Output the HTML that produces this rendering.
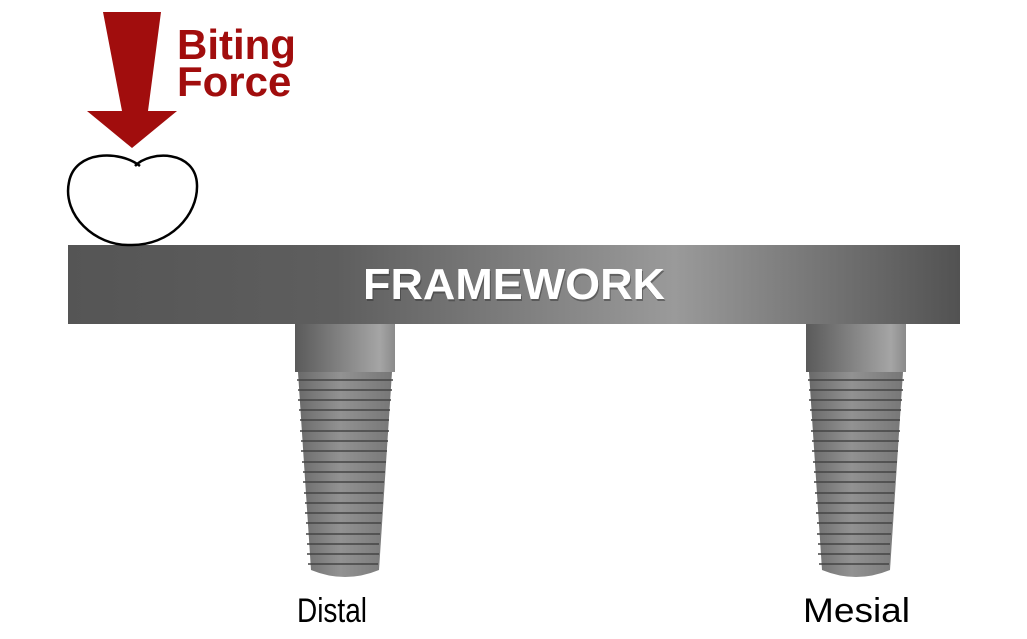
<!DOCTYPE html>
<html><head><meta charset="utf-8"><style>
html,body{margin:0;padding:0;background:#fff;}
svg{display:block;}
</style></head><body>
<svg width="1027" height="639" viewBox="0 0 1027 639" xmlns="http://www.w3.org/2000/svg">
<defs>
<linearGradient id="fw" x1="0" x2="1" y1="0" y2="0">
<stop offset="0" stop-color="#555"/>
<stop offset="0.3" stop-color="#5e5e5e"/>
<stop offset="0.68" stop-color="#9a9a9a"/>
<stop offset="1" stop-color="#525252"/>
</linearGradient>
<linearGradient id="col" x1="0" x2="1">
<stop offset="0" stop-color="#5a5a5a"/>
<stop offset="0.85" stop-color="#a5a5a5"/>
<stop offset="1" stop-color="#8a8a8a"/>
</linearGradient>
<linearGradient id="body" x1="0" x2="1">
<stop offset="0" stop-color="#6a6a6a"/>
<stop offset="0.45" stop-color="#929292"/>
<stop offset="1" stop-color="#777"/>
</linearGradient>
</defs>
<g transform="translate(295,324)">
<rect x="0" y="0" width="100" height="48" fill="url(#col)"/>
<path d="M3 48 L97 48 L84 246 Q50 260 16 246 Z" fill="url(#body)"/>
<g stroke="#444" stroke-width="1.5">
<line x1="2" y1="56" x2="98" y2="56"/><line x1="3" y1="66" x2="97" y2="66"/><line x1="3" y1="76" x2="96" y2="76"/><line x1="4" y1="86" x2="95" y2="86"/><line x1="5" y1="96" x2="94" y2="96"/><line x1="5" y1="107" x2="94" y2="107"/><line x1="6" y1="117" x2="93" y2="117"/><line x1="6" y1="127" x2="92" y2="127"/><line x1="7" y1="138" x2="91" y2="138"/><line x1="8" y1="148" x2="90" y2="148"/><line x1="8" y1="158" x2="89" y2="158"/><line x1="9" y1="169" x2="88" y2="169"/><line x1="10" y1="179" x2="88" y2="179"/><line x1="10" y1="189" x2="87" y2="189"/><line x1="11" y1="199" x2="86" y2="199"/><line x1="11" y1="210" x2="85" y2="210"/><line x1="12" y1="220" x2="84" y2="220"/><line x1="12" y1="230" x2="84" y2="230"/><line x1="13" y1="240" x2="83" y2="240"/>
</g>
</g>
<g transform="translate(806,324)">
<rect x="0" y="0" width="100" height="48" fill="url(#col)"/>
<path d="M3 48 L97 48 L84 246 Q50 260 16 246 Z" fill="url(#body)"/>
<g stroke="#444" stroke-width="1.5">
<line x1="2" y1="56" x2="98" y2="56"/><line x1="3" y1="66" x2="97" y2="66"/><line x1="3" y1="76" x2="96" y2="76"/><line x1="4" y1="86" x2="95" y2="86"/><line x1="5" y1="96" x2="94" y2="96"/><line x1="5" y1="107" x2="94" y2="107"/><line x1="6" y1="117" x2="93" y2="117"/><line x1="6" y1="127" x2="92" y2="127"/><line x1="7" y1="138" x2="91" y2="138"/><line x1="8" y1="148" x2="90" y2="148"/><line x1="8" y1="158" x2="89" y2="158"/><line x1="9" y1="169" x2="88" y2="169"/><line x1="10" y1="179" x2="88" y2="179"/><line x1="10" y1="189" x2="87" y2="189"/><line x1="11" y1="199" x2="86" y2="199"/><line x1="11" y1="210" x2="85" y2="210"/><line x1="12" y1="220" x2="84" y2="220"/><line x1="12" y1="230" x2="84" y2="230"/><line x1="13" y1="240" x2="83" y2="240"/>
</g>
</g>
<rect x="68" y="245" width="892" height="79" fill="url(#fw)"/>
<text x="515" y="301" text-anchor="middle" font-family="Liberation Sans, sans-serif" font-weight="bold" font-size="44" fill="#333" opacity="0.5" textLength="302" lengthAdjust="spacingAndGlyphs">FRAMEWORK</text>
<text x="514" y="299" text-anchor="middle" font-family="Liberation Sans, sans-serif" font-weight="bold" font-size="44" fill="#fff" textLength="302" lengthAdjust="spacingAndGlyphs">FRAMEWORK</text>
<path d="M140 166 C120 150 75 150 69 182 C62 215 95 246 130 245 C170 246 198 215 197 185 C196 150 150 150 135 166" fill="#fff" stroke="#000" stroke-width="2.5"/>
<path d="M103 12 L161 12 L148 111 L177 111 L132 148 L87 111 L122 111 Z" fill="#a10d0d"/>
<text font-family="Liberation Sans, sans-serif" font-weight="bold" font-size="42" fill="#a10d0d"><tspan x="177" y="59">Biting</tspan><tspan x="177" y="96">Force</tspan></text>
<text x="297" y="622" font-family="Liberation Sans, sans-serif" font-size="34" fill="#000" textLength="70" lengthAdjust="spacingAndGlyphs">Distal</text>
<text x="803" y="622" font-family="Liberation Sans, sans-serif" font-size="34" fill="#000" textLength="107" lengthAdjust="spacingAndGlyphs">Mesial</text>
</svg>
</body></html>
